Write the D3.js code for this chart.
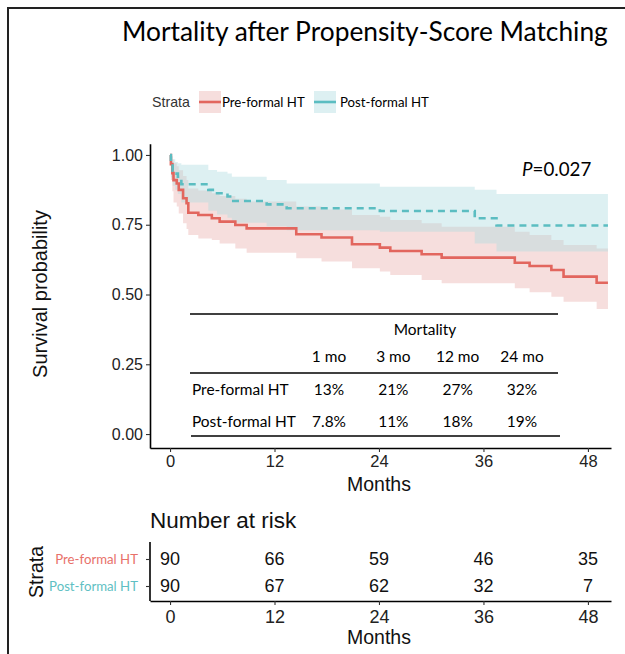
<!DOCTYPE html>
<html><head><meta charset="utf-8">
<script src="https://cdn.jsdelivr.net/npm/d3@7/dist/d3.min.js"></script>
<style>body{margin:0;background:#fff} svg{display:block}</style>
</head><body>
<svg id="c" width="625" height="654"></svg>
<script>
// ---------- data ----------
const titleText = "Mortality after Propensity-Score Matching";
const strata = ["Pre-formal HT", "Post-formal HT"];
const monthTicks = [0, 12, 24, 36, 48];
const survTicks = [0, 0.25, 0.5, 0.75, 1.0];

const preTime  = [0, 0.1, 0.27, 0.4, 0.77, 1.0, 1.5, 1.9, 2.1, 3.25, 4.8, 5.7, 7.5, 8.8, 14.5, 17.4, 20.9, 24.1, 25.3, 28.9, 31.2, 39.6, 41.3, 43.8, 45.2, 49.0, 50.3];
const preSurv  = [1.0, 0.967, 0.935, 0.91, 0.898, 0.875, 0.845, 0.827, 0.793, 0.785, 0.773, 0.761, 0.749, 0.737, 0.716, 0.704, 0.680, 0.668, 0.656, 0.644, 0.632, 0.614, 0.602, 0.588, 0.564, 0.542, 0.542];
const preLower = [1.0, 0.91, 0.87, 0.83, 0.815, 0.79, 0.755, 0.735, 0.713, 0.701, 0.695, 0.683, 0.665, 0.650, 0.630, 0.618, 0.594, 0.582, 0.570, 0.552, 0.540, 0.522, 0.508, 0.492, 0.474, 0.448, 0.448];
const preUpper = [1.0, 0.995, 0.985, 0.97, 0.96, 0.945, 0.925, 0.91, 0.88, 0.873, 0.863, 0.853, 0.843, 0.833, 0.815, 0.805, 0.785, 0.779, 0.767, 0.755, 0.743, 0.725, 0.713, 0.695, 0.677, 0.665, 0.665];

const postTime  = [0, 0.1, 0.3, 0.6, 0.9, 1.3, 4.4, 5.4, 6.6, 7.1, 11.1, 13.4, 24.1, 35.0, 37.5, 50.3];
const postSurv  = [1.0, 0.967, 0.944, 0.933, 0.922, 0.895, 0.875, 0.863, 0.851, 0.835, 0.823, 0.809, 0.799, 0.773, 0.747, 0.747];
const postLower = [1.0, 0.92, 0.89, 0.875, 0.86, 0.83, 0.80, 0.787, 0.775, 0.757, 0.745, 0.73, 0.725, 0.683, 0.654, 0.654];
const postUpper = [1.0, 0.995, 0.985, 0.975, 0.97, 0.965, 0.946, 0.94, 0.934, 0.922, 0.91, 0.898, 0.886, 0.875, 0.860, 0.860];

const riskPre  = [90, 66, 59, 46, 35];
const riskPost = [90, 67, 62, 32, 7];

const mortHeader = "Mortality";
const mortCols = ["1 mo", "3 mo", "12 mo", "24 mo"];
const mortPre  = ["13%", "21%", "27%", "32%"];
const mortPost = ["7.8%", "11%", "18%", "19%"];
const pValue = "0.027";

// ---------- style ----------
const RED = "#e2665e", TEAL = "#5bbdc1";
const RED_TXT = "#e8716a", TEAL_TXT = "#5fbfc3";
const PINK_FILL = "#f6dedd", TEAL_FILL = "#aedbe0";
const CAL = "Lato, 'Open Sans', sans-serif";
const ARIAL = "'Liberation Sans', Arial, sans-serif";

const svg = d3.select("#c");
svg.append("rect").attr("width", 625).attr("height", 654).attr("fill", "#fff");

function fitSize(text, target, family, style) {
  const t = svg.append("text").attr("font-family", family).attr("font-size", 100)
    .attr("font-style", style || "normal").text(text);
  const w = t.node().getComputedTextLength();
  t.remove();
  return 100 * target / w;
}

// border
svg.append("path").attr("d", "M8,654V8H625").attr("fill", "none").attr("stroke", "#222").attr("stroke-width", 2);

// title
svg.append("text").attr("x", 122).attr("y", 41).attr("font-family", CAL)
  .attr("font-size", fitSize(titleText, 486, CAL)).attr("fill", "#000").text(titleText);

// ---------- main plot ----------
const x = d3.scaleLinear().domain([-2.3, 50.65]).range([150, 611]);
const y = d3.scaleLinear().domain([-0.05, 1.04]).range([448, 143.8]);

function series(t, s, lo, up) { return t.map((d, i) => ({t: d, s: s[i], lo: lo[i], up: up[i]})); }
const pre = series(preTime, preSurv, preLower, preUpper);
const post = series(postTime, postSurv, postLower, postUpper);

const area = d3.area().curve(d3.curveStepAfter).x(d => x(d.t)).y0(d => y(d.lo)).y1(d => y(d.up));
const line = d3.line().curve(d3.curveStepAfter).x(d => x(d.t)).y(d => y(d.s));

svg.append("path").datum(pre).attr("d", area).attr("fill", PINK_FILL);
svg.append("path").datum(post).attr("d", area).attr("fill", TEAL_FILL).attr("fill-opacity", 0.42);
svg.append("path").datum(pre).attr("d", line).attr("fill", "none").attr("stroke", RED).attr("stroke-width", 2.6);
svg.append("path").datum(post).attr("d", line).attr("fill", "none").attr("stroke", TEAL)
  .attr("stroke-width", 2.6).attr("stroke-dasharray", "7,5");

function styleAxis(g, fs) {
  g.select(".domain").attr("stroke", "#000").attr("stroke-width", 1.6);
  g.selectAll(".tick line").attr("stroke", "#333").attr("stroke-width", 1.1);
  g.selectAll(".tick text").attr("font-family", ARIAL).attr("font-size", fs).attr("fill", "#222");
}
const gy = svg.append("g").attr("transform", "translate(150,0)")
  .call(d3.axisLeft(y).tickValues(survTicks).tickFormat(d3.format(".2f")).tickSize(4).tickSizeOuter(0).tickPadding(3));
styleAxis(gy, 16);
const gx = svg.append("g").attr("transform", "translate(0,448)")
  .call(d3.axisBottom(x).tickValues(monthTicks).tickSize(4).tickSizeOuter(0).tickPadding(3));
styleAxis(gx, 16.5);

svg.append("text").attr("x", x(24)).attr("y", 491).attr("text-anchor", "middle")
  .attr("font-family", ARIAL).attr("font-size", 19.5).attr("fill", "#111").text("Months");
svg.append("text").attr("transform", "translate(47,294) rotate(-90)").attr("text-anchor", "middle")
  .attr("font-family", ARIAL).attr("font-size", 20).attr("fill", "#111").text("Survival probability");

// p value
const pSize = fitSize("P=" + pValue, 70, CAL);
const pt = svg.append("text").attr("x", 522).attr("y", 176).attr("font-family", CAL).attr("font-size", pSize).attr("fill", "#000");
pt.append("tspan").attr("font-style", "italic").text("P");
pt.append("tspan").text("=" + pValue);

// legend
svg.append("text").attr("x", 152).attr("y", 107).attr("font-family", ARIAL).attr("font-size", 14.2)
  .attr("fill", "#333").text("Strata");
const legSize = fitSize(strata[1], 89, CAL);
const legX = [199, 314];
const legTxt = [222, 340];
const legCol = [[PINK_FILL, RED, 1], [TEAL_FILL, TEAL, 0.42]];
strata.forEach((s, i) => {
  svg.append("rect").attr("x", legX[i]).attr("y", 91).attr("width", 22).attr("height", 22)
    .attr("fill", legCol[i][0]).attr("fill-opacity", legCol[i][2]);
  svg.append("line").attr("x1", legX[i]).attr("x2", legX[i] + 22).attr("y1", 102).attr("y2", 102)
    .attr("stroke", legCol[i][1]).attr("stroke-width", 2.6);
  svg.append("text").attr("x", legTxt[i]).attr("y", 107).attr("font-family", CAL).attr("font-size", legSize)
    .attr("fill", "#000").text(s);
});

// mortality table
const tabSize = fitSize(strata[1], 104, CAL);
const col = d3.scalePoint().domain(mortCols).range([329, 522]);
[[190, 558, 314], [190, 558, 373], [191, 560, 436]].forEach(l => {
  svg.append("line").attr("x1", l[0]).attr("x2", l[1]).attr("y1", l[2]).attr("y2", l[2])
    .attr("stroke", "#000").attr("stroke-width", 1.5);
});
svg.append("text").attr("x", 425).attr("y", 335).attr("text-anchor", "middle").attr("font-family", CAL)
  .attr("font-size", tabSize).text(mortHeader);
mortCols.forEach(c => svg.append("text").attr("x", col(c)).attr("y", 362).attr("text-anchor", "middle")
  .attr("font-family", CAL).attr("font-size", tabSize).text(c));
[[strata[0], mortPre, 395], [strata[1], mortPost, 427]].forEach(r => {
  svg.append("text").attr("x", 192).attr("y", r[2]).attr("font-family", CAL).attr("font-size", tabSize).text(r[0]);
  r[1].forEach((v, i) => svg.append("text").attr("x", col(mortCols[i])).attr("y", r[2]).attr("text-anchor", "middle")
    .attr("font-family", CAL).attr("font-size", tabSize).text(v));
});

// ---------- risk table ----------
svg.append("text").attr("x", 150).attr("y", 528).attr("font-family", ARIAL).attr("font-size", 22.5)
  .attr("fill", "#111").text("Number at risk");
const yr = d3.scalePoint().domain(strata).range([559, 586]);
const gry = svg.append("g").attr("transform", "translate(150,0)")
  .call(d3.axisLeft(yr).tickSize(4).tickSizeOuter(0).tickFormat(""));
gry.select(".domain").attr("d", "M0,542V601");
styleAxis(gry, 1);
const grx = svg.append("g").attr("transform", "translate(0,601)")
  .call(d3.axisBottom(x).tickValues(monthTicks).tickSize(4).tickSizeOuter(0).tickPadding(5));
styleAxis(grx, 18);
strata.forEach((s, i) => {
  svg.append("text").attr("x", 138).attr("y", yr(s)).attr("dy", "0.35em").attr("text-anchor", "end")
    .attr("font-family", CAL).attr("font-size", legSize).attr("fill", i === 0 ? RED_TXT : TEAL_TXT).text(s);
  const vals = i === 0 ? riskPre : riskPost;
  vals.forEach((v, j) => svg.append("text").attr("x", x(monthTicks[j])).attr("y", yr(s)).attr("dy", "0.36em")
    .attr("text-anchor", "middle").attr("font-family", ARIAL).attr("font-size", 18).attr("fill", "#111").text(v));
});
svg.append("text").attr("x", x(24)).attr("y", 644).attr("text-anchor", "middle")
  .attr("font-family", ARIAL).attr("font-size", 19.5).attr("fill", "#111").text("Months");
svg.append("text").attr("transform", "translate(43,572) rotate(-90)").attr("text-anchor", "middle")
  .attr("font-family", ARIAL).attr("font-size", 19.5).attr("fill", "#111").text("Strata");
</script>
</body></html>
